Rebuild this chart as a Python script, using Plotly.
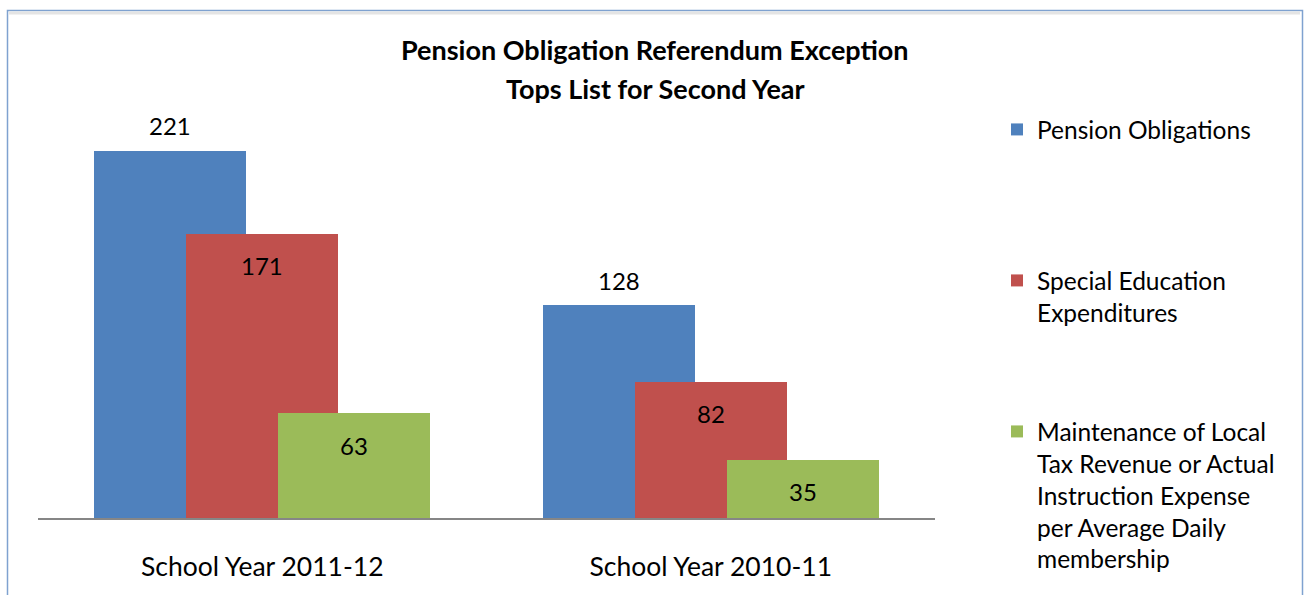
import plotly.graph_objects as go

categories = ["School Year 2011-12", "School Year 2010-11"]
series_names = [
    "Pension Obligations",
    "Special Education<br>Expenditures",
    "Maintenance of Local<br>Tax Revenue or Actual<br>Instruction Expense<br>per Average Daily<br>membership",
]
pension = [221, 128]
special_ed = [171, 82]
maintenance = [63, 35]
title_lines = ["Pension Obligation Referendum Exception", "Tops List for Second Year"]

colors = ["#4F81BD", "#C0504D", "#9BBB59"]
FONT = "Lato"

W, H = 1304, 595
L, R, T, B = 38, 369, 100, 77
plot_w = W - L - R
plot_h = H - T - B

bar_w = 0.3385
centers = [-0.205, 0.0, 0.205]
label_pos = ["above", "inside", "inside"]
legends = ["legend", "legend2", "legend3"]


def px_to_paper_x(px):
    return (px - L) / plot_w


def px_to_paper_y(py):
    return (H - B - py) / plot_h


fig = go.Figure()
all_vals = [pension, special_ed, maintenance]
for i, (name, vals) in enumerate(zip(series_names, all_vals)):
    fig.add_trace(go.Bar(
        x=categories, y=vals, name=name,
        width=bar_w, offset=centers[i] - bar_w / 2,
        marker=dict(color=colors[i], line=dict(width=0)),
        legend=legends[i],
        hoverinfo="skip",
    ))
    for j, v in enumerate(vals):
        fig.add_annotation(
            x=j + centers[i], y=v, xref="x", yref="y",
            text=str(v), showarrow=False,
            yanchor="middle",
            yshift=25 if label_pos[i] == "above" else -32,
            font=dict(family=FONT, size=24, color="#000000"),
        )

for k, line in enumerate(title_lines):
    fig.add_annotation(
        x=px_to_paper_x(655), y=px_to_paper_y(50 + 38 * k), xref="paper", yref="paper",
        text="<b>" + line + "</b>", showarrow=False,
        xanchor="center", yanchor="middle",
        font=dict(family=FONT, size=27, color="#000000"),
    )

ymax = plot_h / 1.661

leg_common = dict(
    xref="paper", yref="paper", x=px_to_paper_x(997), xanchor="left", yanchor="top",
    font=dict(family=FONT, size=24.5, color="#000000"),
    bgcolor="rgba(0,0,0,0)", borderwidth=0, valign="top",
    itemclick=False, itemdoubleclick=False, tracegroupgap=0, itemwidth=30,
)

fig.update_layout(
    width=W, height=H,
    margin=dict(l=L, r=R, t=T, b=B, pad=0),
    paper_bgcolor="#FFFFFF", plot_bgcolor="#FFFFFF",
    barmode="overlay",
    bargap=0,
    xaxis=dict(
        type="category", range=[-0.5, 1.5],
        showline=True, linecolor="#868686", linewidth=1.5,
        showgrid=False, zeroline=False, ticks="",
        ticklabelstandoff=24,
        tickfont=dict(family=FONT, size=26.5, color="#000000"),
        fixedrange=True,
    ),
    yaxis=dict(
        range=[0, ymax], visible=False, showgrid=False, zeroline=False, fixedrange=True,
    ),
    showlegend=True,
    legend=dict(y=px_to_paper_y(107), **leg_common),
    legend2=dict(y=px_to_paper_y(258), **leg_common),
    legend3=dict(y=px_to_paper_y(409), **leg_common),
    shapes=[
        dict(type="rect", xref="paper", yref="paper",
             x0=px_to_paper_x(7.5), x1=px_to_paper_x(1302.5),
             y0=px_to_paper_y(640), y1=px_to_paper_y(10.5),
             line=dict(color="#7FA2D0", width=1.5), fillcolor="rgba(0,0,0,0)", layer="below"),
        dict(type="line", xref="paper", yref="paper",
             x0=px_to_paper_x(9), x1=px_to_paper_x(1300),
             y0=px_to_paper_y(13), y1=px_to_paper_y(13),
             line=dict(color="#E4E4E4", width=3), layer="below"),
    ],
)

fig.write_html("out.html")
